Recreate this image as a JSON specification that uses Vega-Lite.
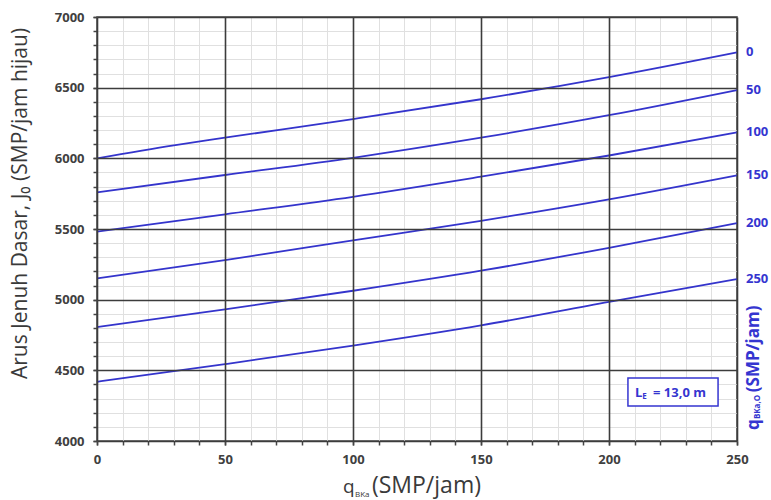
{
  "$schema": "https://vega.github.io/schema/vega-lite/v6.json",
  "width": 640,
  "height": 424,
  "autosize": {"type": "none"},
  "padding": {"left": 97, "top": 17, "right": 34, "bottom": 59},
  "background": "white",
  "config": {
    "view": {"stroke": "#444444", "strokeWidth": 1.5},
    "font": "Open Sans",
    "axis": {"labelFont": "Open Sans", "titleFont": "Open Sans", "labelFlush": false}
  },
  "datasets": {
    "curves": [
      {"qo": 0, "q": 0, "J": 6000}, {"qo": 0, "q": 30, "J": 6092}, {"qo": 0, "q": 50, "J": 6146},
      {"qo": 0, "q": 100, "J": 6278}, {"qo": 0, "q": 150, "J": 6418}, {"qo": 0, "q": 200, "J": 6575},
      {"qo": 0, "q": 250, "J": 6750},
      {"qo": 50, "q": 0, "J": 5759}, {"qo": 50, "q": 50, "J": 5882}, {"qo": 50, "q": 100, "J": 6004},
      {"qo": 50, "q": 150, "J": 6146}, {"qo": 50, "q": 200, "J": 6305}, {"qo": 50, "q": 250, "J": 6483},
      {"qo": 100, "q": 0, "J": 5481}, {"qo": 100, "q": 50, "J": 5604}, {"qo": 100, "q": 100, "J": 5728},
      {"qo": 100, "q": 150, "J": 5870}, {"qo": 100, "q": 200, "J": 6020}, {"qo": 100, "q": 250, "J": 6184},
      {"qo": 150, "q": 0, "J": 5151}, {"qo": 150, "q": 50, "J": 5280}, {"qo": 150, "q": 100, "J": 5420},
      {"qo": 150, "q": 150, "J": 5558}, {"qo": 150, "q": 200, "J": 5710}, {"qo": 150, "q": 250, "J": 5880},
      {"qo": 200, "q": 0, "J": 4806}, {"qo": 200, "q": 50, "J": 4931}, {"qo": 200, "q": 100, "J": 5063},
      {"qo": 200, "q": 150, "J": 5205}, {"qo": 200, "q": 200, "J": 5367}, {"qo": 200, "q": 250, "J": 5542},
      {"qo": 250, "q": 0, "J": 4419}, {"qo": 250, "q": 50, "J": 4544}, {"qo": 250, "q": 100, "J": 4675},
      {"qo": 250, "q": 150, "J": 4818}, {"qo": 250, "q": 200, "J": 4985}, {"qo": 250, "q": 250, "J": 5146}
    ],
    "note": [{}]
  },
  "resolve": {"axis": {"x": "independent", "y": "independent"}},
  "layer": [
    {
      "data": {"name": "curves"},
      "mark": {"type": "line", "interpolate": "monotone", "strokeWidth": 1.8, "color": "#3434cc"},
      "encoding": {
        "x": {
          "field": "q", "type": "quantitative",
          "scale": {"domain": [0, 250], "nice": false, "zero": false},
          "axis": {
            "orient": "bottom", "title": null, "labels": false, "domain": false,
            "values": [0, 10, 20, 30, 40, 50, 60, 70, 80, 90, 100, 110, 120, 130, 140, 150, 160, 170, 180, 190, 200, 210, 220, 230, 240, 250],
            "grid": true, "gridColor": "#e0e0e0", "gridWidth": 1,
            "ticks": true, "tickSize": 4, "tickColor": "#444444", "tickWidth": 1.5
          }
        },
        "y": {
          "field": "J", "type": "quantitative",
          "scale": {"domain": [4000, 7000], "nice": false, "zero": false},
          "axis": {
            "orient": "left", "title": null, "labels": false, "domain": false,
            "values": [4000, 4100, 4200, 4300, 4400, 4500, 4600, 4700, 4800, 4900, 5000, 5100, 5200, 5300, 5400, 5500, 5600, 5700, 5800, 5900, 6000, 6100, 6200, 6300, 6400, 6500, 6600, 6700, 6800, 6900, 7000],
            "grid": true, "gridColor": "#e0e0e0", "gridWidth": 1,
            "ticks": true, "tickSize": 4, "tickColor": "#444444", "tickWidth": 1.5
          }
        },
        "detail": {"field": "qo", "type": "nominal"}
      }
    },
    {
      "data": {"name": "curves"},
      "transform": [{"filter": "datum.q == 250"}],
      "mark": {"type": "text", "align": "left", "baseline": "middle", "dx": 9, "fontSize": 13, "fontWeight": "bold", "color": "#3535d0"},
      "encoding": {
        "x": {
          "field": "q", "type": "quantitative",
          "axis": {
            "orient": "bottom", "title": null, "domain": false, "zindex": 1,
            "values": [0, 50, 100, 150, 200, 250], "format": "d", "labelFlush": false,
            "grid": true, "gridColor": "#3c3c3c", "gridWidth": 1.6,
            "ticks": true, "tickSize": 4, "tickColor": "#444444", "tickWidth": 1.5,
            "labelFontSize": 13, "labelFontWeight": "bold", "labelColor": "#404040", "labelPadding": 8
          }
        },
        "y": {
          "field": "J", "type": "quantitative",
          "axis": {
            "orient": "left", "domain": false, "zindex": 1,
            "values": [4000, 4500, 5000, 5500, 6000, 6500, 7000], "format": "d", "labelFlush": false,
            "grid": true, "gridColor": "#3c3c3c", "gridWidth": 1.6,
            "ticks": true, "tickSize": 4, "tickColor": "#444444", "tickWidth": 1.5,
            "labelFontSize": 13, "labelFontWeight": "bold", "labelColor": "#404040", "labelPadding": 9,
            "title": "Arus Jenuh Dasar, J₀ (SMP/jam hijau)",
            "titleFontSize": 21, "titleFontWeight": "normal", "titleColor": "#3a3a3a",
            "titleAngle": 270, "titleX": -77, "titleY": 186, "titleAlign": "center", "titleBaseline": "middle"
          }
        },
        "text": {"field": "qo", "type": "nominal"}
      }
    },
    {
      "data": {"name": "note"},
      "mark": {"type": "rect", "fill": "white", "stroke": "#3535d0", "strokeWidth": 1.5},
      "encoding": {
        "x": {"datum": 207.4, "type": "quantitative", "axis": null},
        "x2": {"datum": 242.6},
        "y": {"datum": 4445, "type": "quantitative", "axis": null},
        "y2": {"datum": 4247}
      }
    },
    {
      "data": {"name": "note"},
      "mark": {"type": "text", "align": "left", "baseline": "middle", "fontSize": 13, "fontWeight": "bold", "color": "#3535d0", "text": "L"},
      "encoding": {
        "x": {"datum": 210.2, "type": "quantitative", "axis": null},
        "y": {"datum": 4339, "type": "quantitative", "axis": null}
      }
    },
    {
      "data": {"name": "note"},
      "mark": {"type": "text", "align": "left", "baseline": "middle", "fontSize": 8, "fontWeight": "bold", "color": "#3535d0", "text": "E"},
      "encoding": {
        "x": {"datum": 213.0, "type": "quantitative", "axis": null},
        "y": {"datum": 4311, "type": "quantitative", "axis": null}
      }
    },
    {
      "data": {"name": "note"},
      "mark": {"type": "text", "align": "left", "baseline": "middle", "fontSize": 13, "fontWeight": "bold", "color": "#3535d0", "text": "= 13,0 m"},
      "encoding": {
        "x": {"datum": 217.2, "type": "quantitative", "axis": null},
        "y": {"datum": 4339, "type": "quantitative", "axis": null}
      }
    },
    {
      "data": {"name": "note"},
      "mark": {"type": "text", "align": "left", "baseline": "middle", "angle": 270, "fontSize": 17, "fontWeight": "bold", "color": "#3535d0", "text": "q"},
      "encoding": {
        "x": {"datum": 256.6, "type": "quantitative", "axis": null},
        "y": {"datum": 4077, "type": "quantitative", "axis": null}
      }
    },
    {
      "data": {"name": "note"},
      "mark": {"type": "text", "align": "left", "baseline": "middle", "angle": 270, "fontSize": 8, "fontWeight": "bold", "color": "#3535d0", "text": "BKa,O"},
      "encoding": {
        "x": {"datum": 258.2, "type": "quantitative", "axis": null},
        "y": {"datum": 4155, "type": "quantitative", "axis": null}
      }
    },
    {
      "data": {"name": "note"},
      "mark": {"type": "text", "align": "left", "baseline": "middle", "angle": 270, "fontSize": 17, "fontWeight": "bold", "color": "#3535d0", "text": "(SMP/jam)"},
      "encoding": {
        "x": {"datum": 256.6, "type": "quantitative", "axis": null},
        "y": {"datum": 4345, "type": "quantitative", "axis": null}
      }
    },
    {
      "data": {"name": "note"},
      "mark": {"type": "text", "align": "left", "baseline": "alphabetic", "fontSize": 19, "color": "#3a3a3a", "text": "q"},
      "encoding": {
        "x": {"datum": 96.1, "type": "quantitative", "axis": null},
        "y": {"datum": 3631, "type": "quantitative", "axis": null}
      }
    },
    {
      "data": {"name": "note"},
      "mark": {"type": "text", "align": "left", "baseline": "alphabetic", "fontSize": 8, "color": "#3a3a3a", "text": "BKa"},
      "encoding": {
        "x": {"datum": 100.8, "type": "quantitative", "axis": null},
        "y": {"datum": 3607, "type": "quantitative", "axis": null}
      }
    },
    {
      "data": {"name": "note"},
      "mark": {"type": "text", "align": "left", "baseline": "alphabetic", "fontSize": 23, "color": "#3a3a3a", "text": "(SMP/jam)"},
      "encoding": {
        "x": {"datum": 107.4, "type": "quantitative", "axis": null},
        "y": {"datum": 3631, "type": "quantitative", "axis": null}
      }
    }
  ]
}
